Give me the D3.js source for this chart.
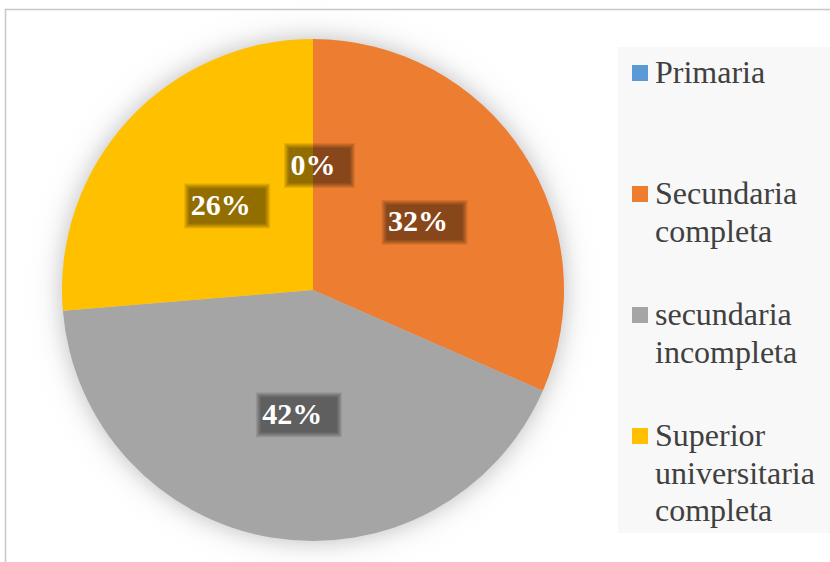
<!DOCTYPE html>
<html>
<head>
<meta charset="utf-8">
<script src="https://cdn.jsdelivr.net/npm/d3@7"></script>
</head>
<body style="margin:0">
<svg id="chart" width="830" height="562"></svg>
<script>
// Education level of respondents (counts per category)
const categories = ["Primaria", "Secundaria completa", "secundaria incompleta", "Superior universitaria completa"];
const counts = [0, 6, 8, 5];
const colors = ["#5B9BD5", "#ED7D31", "#A5A5A5", "#FFC000"];
// Legend text, already broken into lines
const legendLines = [
  ["Primaria"],
  ["Secundaria", "completa"],
  ["secundaria", "incompleta"],
  ["Superior", "universitaria", "completa"]
];

const FONT = '"Times New Roman", Tinos, "Liberation Serif", "Nimbus Roman", FreeSerif, serif';
const svg = d3.select("#chart");
const W = 830, H = 562;
const cx = 313, cy = 290, radius = 251;

// Soft halo around the pie, as a radial fade
const haloR = radius + 40;
const defs = svg.append("defs");
const grad = defs.append("radialGradient").attr("id", "halo")
  .attr("gradientUnits", "userSpaceOnUse")
  .attr("cx", 0).attr("cy", 0).attr("r", haloR);
[[radius - 10, 0.5], [radius, 0.3], [radius + 6, 0.19], [radius + 12, 0.1],
 [radius + 18, 0.045], [radius + 26, 0.015], [haloR, 0]].forEach(([d, o]) => {
  grad.append("stop").attr("offset", d / haloR)
    .attr("stop-color", "#8f8f8f").attr("stop-opacity", o);
});

// Chart frame
svg.append("rect")
  .attr("x", 5.5).attr("y", 9.5)
  .attr("width", W + 20).attr("height", H + 20)
  .attr("fill", "#ffffff")
  .attr("stroke", "#c8c8c8").attr("stroke-width", 1.5);

// Legend panel
svg.append("rect")
  .attr("x", 618).attr("y", 47)
  .attr("width", 230).attr("height", 486)
  .attr("fill", "#f8f8f8");

const total = d3.sum(counts);
const color = d3.scaleOrdinal().domain(categories).range(colors);

const pie = d3.pie().sort(null).value(d => d.value);
const arcs = pie(categories.map((c, i) => ({ name: c, value: counts[i] })));
const arc = d3.arc().innerRadius(0).outerRadius(radius);

const g = svg.append("g").attr("transform", `translate(${cx},${cy})`);

g.append("circle")
  .attr("r", haloR)
  .attr("fill", "url(#halo)");

g.selectAll("path.slice")
  .data(arcs)
  .join("path")
  .attr("class", "slice")
  .attr("d", arc)
  .attr("fill", d => color(d.data.name));

// Approximate advance widths of bold serif glyphs (in em)
const LABEL_SIZE = 30;
const glyphEm = ch => (ch === "%" ? 1.0 : 0.5);
const textWidth = s => d3.sum(Array.from(s), glyphEm) * LABEL_SIZE;

// Percentage labels over dark boxes with feathered edges
const feather = [-2.5, -1.5, -0.5, 0.5, 1.5, 2.5];
arcs.forEach(d => {
  const [lx, ly] = arc.centroid(d);
  const x0 = cx + lx, y0 = cy + ly;
  const label = Math.round(d.data.value / total * 100) + "%";
  const w = textWidth(label);
  feather.forEach(k => {
    svg.append("rect")
      .attr("x", x0 - w / 2 - 4 + k)
      .attr("y", y0 - 19 + k)
      .attr("width", Math.max(0, w + 21 - 2 * k))
      .attr("height", Math.max(0, 40 - 2 * k))
      .attr("fill", "#000000")
      .attr("opacity", 0.087);
  });
  svg.append("text")
    .style("font-family", FONT)
    .style("font-weight", "bold")
    .attr("font-size", LABEL_SIZE)
    .attr("text-anchor", "middle")
    .attr("x", x0)
    .attr("y", y0 + 10)
    .attr("fill", "#ffffff")
    .text(label);
});

// Legend
const legendX = 632;
const firstBaseline = 83;
const slot = 121;
const lineH = 37.5;
categories.forEach((c, i) => {
  const base = firstBaseline + i * slot;
  svg.append("rect")
    .attr("x", legendX).attr("y", base - 18)
    .attr("width", 16).attr("height", 16)
    .attr("fill", color(c));
  legendLines[i].forEach((line, j) => {
    svg.append("text")
      .style("font-family", FONT)
      .attr("font-size", 32)
      .attr("fill", "#404040")
      .attr("x", 655)
      .attr("y", base + j * lineH)
      .text(line);
  });
});
</script>
</body>
</html>
